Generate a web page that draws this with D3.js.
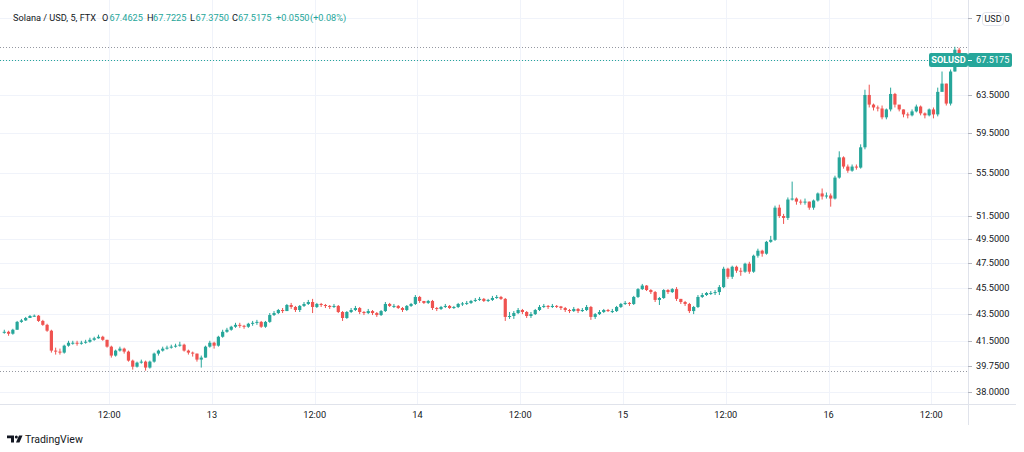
<!DOCTYPE html>
<html>
<head>
<meta charset="utf-8">
<script src="https://cdnjs.cloudflare.com/ajax/libs/d3/7.8.5/d3.min.js"></script>
<style>
  body { margin: 0; background: #ffffff; }
  text { font-family: Roboto, "Liberation Sans", sans-serif; }
</style>
</head>
<body>
<div id="chart"></div>
<script>
// 30 minute candles (open = close of the candle before)
var firstOpen = 42.10;
var closes = [
  42.15, 42.01, 42.30, 42.88, 42.99, 43.17, 43.32, 43.34, 42.95, 42.66,
  42.23, 40.80, 40.73, 40.66, 41.15, 41.36, 41.36, 41.29, 41.36, 41.43,
  41.57, 41.68, 41.79, 41.57, 41.08, 40.45, 40.80, 40.94, 40.73, 40.10,
  39.68, 39.96, 40.03, 39.62, 40.03, 40.59, 40.80, 40.94, 41.01, 41.08,
  41.15, 41.22, 40.80, 40.66, 40.59, 40.17, 40.31, 41.08, 41.36, 41.15,
  41.79, 42.15, 42.30, 42.52, 42.66, 42.59, 42.52, 42.74, 42.81, 42.88,
  42.52, 42.88, 43.39, 43.54, 43.77, 43.69, 44.15, 44.00, 43.77, 44.08,
  44.23, 44.38, 44.00, 44.23, 44.15, 44.08, 44.00, 44.08, 43.62, 43.17,
  43.62, 43.77, 43.92, 43.62, 43.54, 43.69, 43.54, 43.39, 43.69, 44.23,
  44.08, 44.08, 43.92, 43.77, 44.08, 44.23, 44.77, 44.46, 44.31, 44.46,
  43.92, 43.85, 44.00, 44.08, 43.92, 44.00, 44.23, 44.27, 44.31, 44.46,
  44.54, 44.62, 44.46, 44.54, 44.69, 44.77, 44.62, 43.25, 43.32, 43.54,
  43.77, 43.62, 43.32, 43.46, 43.77, 44.00, 44.08, 44.00, 44.08, 44.04,
  43.92, 43.77, 43.69, 43.85, 43.69, 43.77, 44.00, 43.25, 43.46, 43.62,
  43.77, 43.69, 43.69, 44.00, 44.23, 44.31, 44.23, 44.77, 45.38, 45.66,
  45.31, 45.15, 44.54, 44.69, 45.31, 45.15, 45.38, 44.62, 44.38, 44.23,
  43.69, 44.00, 44.77, 44.92, 45.08, 45.08, 45.15, 45.54, 47.01, 46.36,
  47.17, 46.85, 46.77, 47.42, 46.77, 48.08, 48.50, 48.25, 49.25, 49.42,
  52.25, 51.50, 51.33, 52.99, 53.08, 52.80, 52.71, 52.80, 52.25, 52.90,
  53.55, 53.27, 53.36, 53.08, 55.04, 57.00, 56.10, 55.70, 56.10, 56.00,
  58.00, 63.50, 62.45, 62.14, 62.03, 61.09, 61.93, 63.61, 62.45, 61.93,
  61.40, 61.30, 61.72, 62.24, 61.51, 61.30, 61.93, 61.40, 63.84, 64.76,
  62.56, 66.13, 68.67, 67.5175
];
var highs = [
  42.30, 42.23, 42.37, 42.95, 43.10, 43.25, 43.39, 43.43, 43.39, 43.03,
  42.74, 42.30, 41.01, 40.94, 41.22, 41.50, 41.50, 41.50, 41.50, 41.57,
  41.72, 41.79, 41.94, 41.86, 41.57, 41.15, 40.87, 41.08, 41.01, 40.80,
  40.17, 40.03, 40.17, 40.10, 40.10, 40.66, 40.87, 41.08, 41.15, 41.22,
  41.29, 41.43, 41.29, 40.87, 40.73, 40.59, 40.45, 41.15, 41.50, 41.43,
  41.86, 42.30, 42.44, 42.59, 42.81, 42.81, 42.66, 42.81, 42.95, 43.03,
  42.95, 42.95, 43.54, 43.69, 43.85, 43.92, 44.23, 44.31, 44.08, 44.15,
  44.38, 44.54, 44.62, 44.31, 44.31, 44.23, 44.15, 44.23, 44.15, 43.69,
  43.69, 43.92, 44.08, 44.00, 43.69, 43.85, 43.77, 43.62, 43.77, 44.38,
  44.31, 44.23, 44.15, 44.00, 44.15, 44.31, 44.92, 44.85, 44.46, 44.54,
  44.54, 44.00, 44.08, 44.23, 44.15, 44.08, 44.31, 44.38, 44.46, 44.54,
  44.69, 44.77, 44.69, 44.62, 44.85, 44.92, 44.85, 44.69, 43.62, 43.69,
  43.92, 43.85, 43.69, 43.62, 43.85, 44.15, 44.23, 44.15, 44.23, 44.15,
  44.08, 44.00, 43.85, 44.00, 43.92, 43.92, 44.15, 44.08, 43.54, 43.77,
  43.85, 43.85, 43.85, 44.08, 44.31, 44.46, 44.38, 44.85, 45.46, 45.79,
  45.70, 45.38, 45.23, 44.77, 45.38, 45.38, 45.46, 45.54, 44.62, 44.46,
  44.31, 44.08, 44.92, 45.08, 45.15, 45.23, 45.31, 45.70, 47.17, 47.09,
  47.26, 47.26, 47.09, 47.50, 47.58, 48.17, 48.67, 48.58, 49.33, 49.76,
  52.43, 52.52, 51.69, 53.18, 54.66, 53.18, 52.99, 53.08, 52.80, 52.99,
  53.64, 54.01, 53.64, 53.55, 55.22, 57.60, 57.10, 56.30, 56.30, 56.30,
  58.30, 64.08, 64.64, 62.56, 62.35, 62.35, 62.03, 64.31, 63.73, 62.35,
  61.93, 61.61, 61.93, 62.45, 62.35, 61.61, 62.03, 62.14, 64.31, 66.13,
  64.76, 66.36, 69.02, 68.90
];
var lows = [
  42.01, 41.86, 41.94, 42.30, 42.81, 42.95, 43.17, 43.25, 42.88, 42.59,
  42.15, 40.66, 40.52, 40.52, 40.59, 41.08, 41.22, 41.15, 41.22, 41.29,
  41.36, 41.50, 41.65, 41.50, 41.01, 40.31, 40.38, 40.73, 40.59, 40.03,
  39.48, 39.62, 39.89, 39.41, 39.55, 39.96, 40.45, 40.73, 40.87, 40.94,
  41.01, 41.08, 40.73, 40.52, 40.38, 40.03, 39.62, 40.31, 41.01, 40.94,
  41.08, 41.72, 42.08, 42.23, 42.44, 42.44, 42.37, 42.44, 42.59, 42.66,
  42.44, 42.44, 42.81, 43.32, 43.46, 43.54, 43.69, 43.85, 43.62, 43.62,
  44.00, 44.15, 43.54, 43.92, 44.00, 43.92, 43.85, 43.92, 43.54, 42.95,
  43.10, 43.54, 43.69, 43.46, 43.39, 43.46, 43.39, 43.25, 43.32, 43.62,
  44.00, 43.92, 43.85, 43.62, 43.69, 44.00, 44.15, 44.31, 44.23, 44.23,
  43.77, 43.69, 43.77, 43.92, 43.85, 43.85, 43.92, 44.08, 44.15, 44.23,
  44.38, 44.46, 44.38, 44.38, 44.46, 44.62, 44.54, 42.95, 43.10, 43.10,
  43.46, 43.46, 43.17, 43.17, 43.39, 43.69, 43.92, 43.85, 43.92, 43.92,
  43.77, 43.62, 43.54, 43.62, 43.54, 43.62, 43.69, 43.03, 43.10, 43.39,
  43.54, 43.62, 43.54, 43.62, 43.92, 44.15, 44.08, 44.15, 44.69, 45.31,
  45.23, 45.00, 44.38, 44.15, 44.62, 45.00, 45.08, 44.46, 44.23, 44.08,
  43.54, 43.46, 43.92, 44.69, 44.85, 44.92, 44.92, 44.92, 45.46, 46.19,
  46.19, 46.68, 46.44, 46.68, 46.60, 46.68, 47.92, 48.00, 48.17, 49.17,
  49.33, 51.33, 50.80, 51.15, 52.90, 52.52, 52.52, 52.52, 52.06, 52.06,
  52.80, 52.99, 53.08, 52.34, 52.99, 54.94, 55.90, 55.50, 55.60, 55.80,
  55.90, 57.80, 62.14, 61.82, 61.72, 60.88, 60.88, 61.72, 62.14, 61.72,
  61.09, 60.98, 61.19, 61.61, 61.30, 60.98, 61.19, 60.98, 61.19, 64.08,
  62.35, 62.35, 66.13, 66.82
];

// first candle opens at 23:30 on the 11th (UTC), one every 30 minutes
var firstCandle = Date.UTC(2021, 7, 11, 23, 30);
var candleMinutes = 30;

// price axis ticks (the top one is mostly hidden by the currency badge)
var priceTicks = [38.0, 39.75, 41.5, 43.5, 45.5, 47.5, 49.5, 51.5, 55.5, 59.5, 63.5, 67.5, 72.5];

// time axis ticks
var timeTicks = [
  Date.UTC(2021, 7, 12, 12), Date.UTC(2021, 7, 13), Date.UTC(2021, 7, 13, 12),
  Date.UTC(2021, 7, 14), Date.UTC(2021, 7, 14, 12), Date.UTC(2021, 7, 15),
  Date.UTC(2021, 7, 15, 12), Date.UTC(2021, 7, 16), Date.UTC(2021, 7, 16, 12)
];
var timeLabels = ["12:00", "13", "12:00", "14", "12:00", "15", "12:00", "16", "12:00"];

// legend text of the last 5 minute bar
var titleText = "Solana / USD, 5, FTX";
var ohlcKeys = ["O", "H", "L", "C"];
var ohlcValues = ["67.4625", "67.7225", "67.3750", "67.5175"];
var changeText = ["+0.0550", "(+0.08%)"];
var symbolName = "SOLUSD";

// colours
var upColor = "#26a69a";
var downColor = "#ef5350";
var gridColor = "#f0f3fa";
var lineColor = "#e0e3eb";
var textColor = "#131722";

// sizes of the page
var width = 1024;
var height = 452;
var paneRight = 968;
var paneBottom = 404;

var svg = d3
    .select("#chart")
    .append("svg")
    .attr("width", width)
    .attr("height", height);

// build the candle objects from the arrays
var candles = closes.map(function(c, i) {
    return {
        time: new Date(firstCandle + (i + 0.5) * candleMinutes * 60000),
        open: i === 0 ? firstOpen : closes[i - 1],
        high: highs[i],
        low: lows[i],
        close: c
    };
});

// scales: time on x, log price on y
var xScale = d3
    .scaleUtc()
    .domain([new Date(Date.UTC(2021, 7, 11, 23, 15)), new Date(Date.UTC(2021, 7, 16, 16, 17))])
    .range([0, paneRight]);

var yScale = d3
    .scaleLog()
    .domain([37.2, 74.84])
    .range([paneBottom, 0]);

// grid lines
var grid = svg.append("g").attr("class", "grid");

grid.selectAll(".hgrid")
    .data(priceTicks)
    .enter()
    .append("line")
    .attr("x1", 0)
    .attr("x2", paneRight)
    .attr("y1", function(d) { return Math.round(yScale(d)) + 0.5; })
    .attr("y2", function(d) { return Math.round(yScale(d)) + 0.5; })
    .attr("stroke", gridColor);

grid.selectAll(".vgrid")
    .data(timeTicks)
    .enter()
    .append("line")
    .attr("x1", function(d) { return Math.round(xScale(d)) + 0.5; })
    .attr("x2", function(d) { return Math.round(xScale(d)) + 0.5; })
    .attr("y1", 0)
    .attr("y2", paneBottom)
    .attr("stroke", gridColor);

// clip everything to the price pane
svg.append("clipPath")
    .attr("id", "pane")
    .append("rect")
    .attr("x", 0)
    .attr("y", 0)
    .attr("width", paneRight)
    .attr("height", paneBottom);

var pane = svg.append("g").attr("clip-path", "url(#pane)");

// high / low price lines of the visible range
var maxHigh = d3.max(highs);
var minLow = d3.min(lows);

pane.selectAll(".hlLine")
    .data([maxHigh, minLow])
    .enter()
    .append("line")
    .attr("x1", 0)
    .attr("x2", paneRight)
    .attr("y1", function(d) { return Math.round(yScale(d)) + 0.5; })
    .attr("y2", function(d) { return Math.round(yScale(d)) + 0.5; })
    .attr("stroke", "#9598a1")
    .attr("stroke-dasharray", "1,2");

// last price line
var lastClose = closes[closes.length - 1];
pane.append("line")
    .attr("x1", 0)
    .attr("x2", paneRight)
    .attr("y1", Math.round(yScale(lastClose)) + 0.5)
    .attr("y2", Math.round(yScale(lastClose)) + 0.5)
    .attr("stroke", upColor)
    .attr("stroke-dasharray", "1,2");

// candles
var bodyWidth = 3.2;
var candleG = pane.selectAll(".candle")
    .data(candles)
    .enter()
    .append("g")
    .attr("class", "candle");

candleG.append("line")
    .attr("x1", function(d) { return xScale(d.time); })
    .attr("x2", function(d) { return xScale(d.time); })
    .attr("y1", function(d) { return yScale(d.high); })
    .attr("y2", function(d) { return yScale(d.low); })
    .attr("stroke", function(d) { return d.close >= d.open ? upColor : downColor; })
    .attr("stroke-width", 1);

candleG.append("rect")
    .attr("x", function(d) { return xScale(d.time) - bodyWidth / 2; })
    .attr("y", function(d) { return yScale(Math.max(d.open, d.close)); })
    .attr("width", bodyWidth)
    .attr("height", function(d) {
        return Math.max(1, Math.abs(yScale(d.open) - yScale(d.close)));
    })
    .attr("fill", function(d) { return d.close >= d.open ? upColor : downColor; });

// axis border lines
svg.append("line")
    .attr("x1", 0)
    .attr("x2", 1016)
    .attr("y1", paneBottom + 0.5)
    .attr("y2", paneBottom + 0.5)
    .attr("stroke", lineColor);

svg.append("line")
    .attr("x1", paneRight + 0.5)
    .attr("x2", paneRight + 0.5)
    .attr("y1", 0)
    .attr("y2", 425)
    .attr("stroke", lineColor);

// price axis labels
var yAxisG = svg.append("g").attr("class", "yAxis");

yAxisG.selectAll(".ytick")
    .data(priceTicks)
    .enter()
    .append("line")
    .attr("x1", paneRight)
    .attr("x2", paneRight + 4)
    .attr("y1", function(d) { return Math.round(yScale(d)) + 0.5; })
    .attr("y2", function(d) { return Math.round(yScale(d)) + 0.5; })
    .attr("stroke", "#b2b5be");

// the last two ticks sit under the badges, so they are left to be drawn apart
var plainTicks = priceTicks.slice(0, priceTicks.length - 2);
yAxisG.selectAll(".ylabel")
    .data(plainTicks)
    .enter()
    .append("text")
    .attr("x", paneRight + 8)
    .attr("y", function(d) { return yScale(d); })
    .attr("dy", "0.35em")
    .attr("font-size", 9.2)
    .attr("fill", textColor)
    .text(function(d) { return d.toFixed(4); });

// the top label only shows its first and last digit beside the USD badge
var topTick = priceTicks[priceTicks.length - 1];
var topText = topTick.toFixed(4);
yAxisG.append("text")
    .attr("x", paneRight + 8)
    .attr("y", yScale(topTick))
    .attr("dy", "0.35em")
    .attr("font-size", 9.2)
    .attr("fill", textColor)
    .text(topText.charAt(0));
yAxisG.append("text")
    .attr("x", 1004.5)
    .attr("y", yScale(topTick))
    .attr("dy", "0.35em")
    .attr("font-size", 9.2)
    .attr("fill", textColor)
    .text(topText.charAt(topText.length - 1));

// time axis labels
svg.append("g")
    .attr("class", "xAxis")
    .selectAll("text")
    .data(timeTicks)
    .enter()
    .append("text")
    .attr("x", function(d) { return xScale(d); })
    .attr("y", 415)
    .attr("dy", "0.35em")
    .attr("text-anchor", "middle")
    .attr("font-size", 9.2)
    .attr("fill", textColor)
    .text(function(d, i) { return timeLabels[i]; });

// last price badge on the axis
var lastY = Math.round(yScale(lastClose));
svg.append("rect")
    .attr("x", 929)
    .attr("y", lastY - 7)
    .attr("width", 39)
    .attr("height", 14)
    .attr("rx", 2)
    .attr("fill", upColor);
svg.append("rect")
    .attr("x", 968)
    .attr("y", lastY - 7)
    .attr("width", 44)
    .attr("height", 14)
    .attr("rx", 2)
    .attr("fill", upColor);
svg.append("line")
    .attr("x1", paneRight)
    .attr("x2", paneRight + 4)
    .attr("y1", lastY + 0.5)
    .attr("y2", lastY + 0.5)
    .attr("stroke", "#ffffff");
svg.append("text")
    .attr("x", 948.5)
    .attr("y", lastY)
    .attr("dy", "0.35em")
    .attr("text-anchor", "middle")
    .attr("font-size", 9.2)
    .attr("font-weight", "bold")
    .attr("fill", "#ffffff")
    .text(symbolName);
svg.append("text")
    .attr("x", paneRight + 8)
    .attr("y", lastY)
    .attr("dy", "0.35em")
    .attr("font-size", 9.2)
    .attr("fill", "#ffffff")
    .text(lastClose.toFixed(4));

// currency badge in the top right corner
svg.append("rect")
    .attr("x", 982.5)
    .attr("y", 12.5)
    .attr("width", 21)
    .attr("height", 13)
    .attr("rx", 3)
    .attr("fill", "#ffffff")
    .attr("stroke", lineColor);
svg.append("text")
    .attr("x", 993)
    .attr("y", 19)
    .attr("dy", "0.35em")
    .attr("text-anchor", "middle")
    .attr("font-size", 9)
    .attr("fill", textColor)
    .text("USD");

// legend line at the top
var legend = svg.append("text")
    .attr("y", 21)
    .attr("font-size", 9.2)
    .attr("fill", textColor);

legend.append("tspan").attr("x", 13).text(titleText);

var keyX = [102, 147, 190, 232];
var valX = [109.5, 153, 195.5, 238];
ohlcKeys.forEach(function(k, i) {
    legend.append("tspan").attr("x", keyX[i]).attr("fill", textColor).text(k);
    legend.append("tspan").attr("x", valX[i]).attr("fill", upColor).text(ohlcValues[i]);
});
legend.append("tspan").attr("x", 276).attr("fill", upColor).text(changeText[0]);
legend.append("tspan").attr("x", 310).attr("fill", upColor).text(changeText[1]);

// TradingView mark and name at the bottom left
var logo = svg.append("g").attr("fill", textColor);
logo.append("path").attr("d", "M7,435.5 H14 V442.5 H11 V438.3 H7 Z");
logo.append("circle").attr("cx", 16.3).attr("cy", 437).attr("r", 1.5);
logo.append("path").attr("d", "M19,435.5 H22.5 L19.5,442.5 H16 Z");

svg.append("text")
    .attr("x", 25)
    .attr("y", 439)
    .attr("dy", "0.35em")
    .attr("font-size", 10.5)
    .attr("fill", textColor)
    .text("TradingView");
</script>
</body>
</html>
